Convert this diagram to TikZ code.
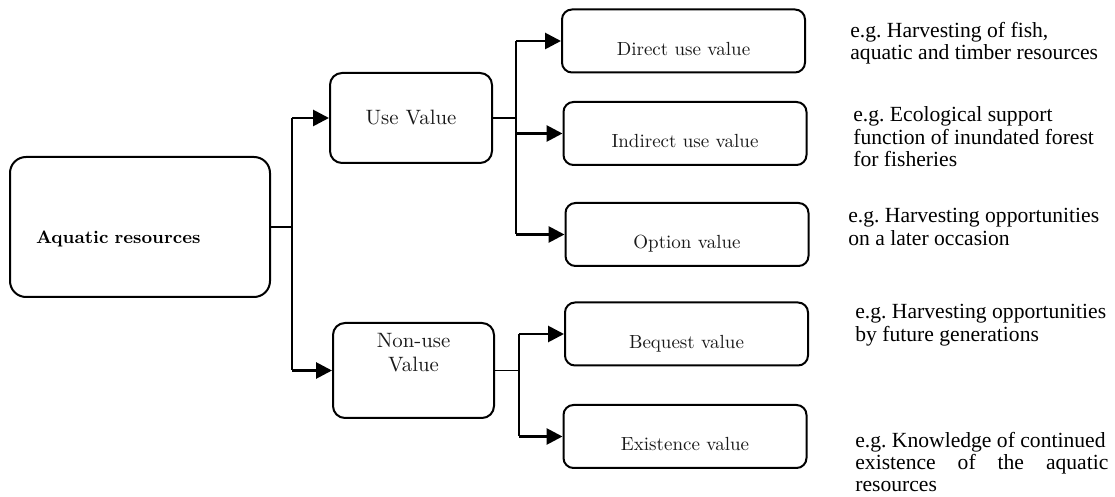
\documentclass[tikz,border=0pt]{standalone}
\usepackage{fontspec}
\newfontfamily\egfont{Liberation Serif}
\usetikzlibrary{arrows.meta}
\tikzset{
  valbox/.style={draw, line width=1pt, rounded corners=5pt, minimum width=121.5pt, minimum height=31.5pt,
    inner sep=0pt, text height=14.4pt, text depth=0pt, text=black!90, font=\fontsize{9.5}{11}\selectfont},
  midbox/.style={draw, line width=1pt, rounded corners=6pt, inner sep=0pt, text=black!90,
    font=\fontsize{10.4}{12}\selectfont},
  egtext/.style={anchor=west, inner sep=0pt, align=left, font=\egfont\frenchspacing\fontsize{10.8}{11.2}\selectfont},
  bus/.style={line width=.9pt},
  arr/.style={line width=1.4pt, -{Triangle[length=8pt,width=8pt]}},
}
\begin{document}
\begin{tikzpicture}[x=.5pt, y=-.5pt]
\useasboundingbox (0,0) rectangle (1115,497);
% left box
\node[draw, line width=1pt, rounded corners=8pt, minimum width=130pt, minimum height=70pt,
  text width=104pt, inner xsep=13pt, align=left, text height=16.4pt, text depth=0pt,
  font=\fontsize{9}{11}\selectfont\bfseries] (aqua) at (140,227) {Aquatic resources};
% middle boxes
\node[midbox, minimum width=81pt, minimum height=45pt] (use) at (411,118) {Use Value};
\node[midbox, minimum width=80.5pt, minimum height=47.5pt, align=center,
  text height=12pt, text depth=11pt] (nonuse) at (413.5,370.5) {Non-use\\Value};
% right boxes
\foreach \n/\x/\y/\t in {direct/683.5/41/Direct use value, indirect/685/133.5/Indirect use value,
  option/687/234.5/Option value, bequest/686.5/334/Bequest value, existence/685/436.5/Existence value}
{
    \node[valbox] (\n) at (\x,\y) {\t};
}
% connectors
\draw[bus] (aqua.east) -- ++(21,0) coordinate (b0);
\draw[bus] (b0 |- use.west) -- (b0 |- nonuse.west);
\foreach \n in {use,nonuse}
    \draw[arr] (b0 |- \n.west) -- (\n.west);
\draw[bus] (use.east) -- ++(23,0) coordinate (b1);
\draw[bus] (b1 |- direct.west) -- (b1 |- option.west);
\foreach \n in {direct,indirect,option}
    \draw[arr] (b1 |- \n.west) -- (\n.west);
\draw[bus] (nonuse.east) -- ++(24,0) coordinate (b2);
\draw[bus] (b2 |- bequest.west) -- (b2 |- existence.west);
\foreach \n in {bequest,existence}
    \draw[arr] (b2 |- \n.west) -- (\n.west);
% examples
\foreach \n/\x/\y/\t in {eg1/850/43/{e.g. Harvesting of fish,\\aquatic and timber resources},
  eg2/853/137/{e.g. Ecological support\\function of inundated forest\\for fisheries},
  eg3/848/227/{e.g. Harvesting opportunities\\on a later occasion},
  eg4/855/325/{e.g. Harvesting opportunities\\by future generations}}
{
    \node[egtext] (\n) at (\x,\y) {\t};
}
\node[egtext] (eg5) at (855,462)
  {e.g. Knowledge of continued\\\hbox to 126.5pt{existence\hfill of\hfill the\hfill aquatic}\\resources};
\end{tikzpicture}
\end{document}
